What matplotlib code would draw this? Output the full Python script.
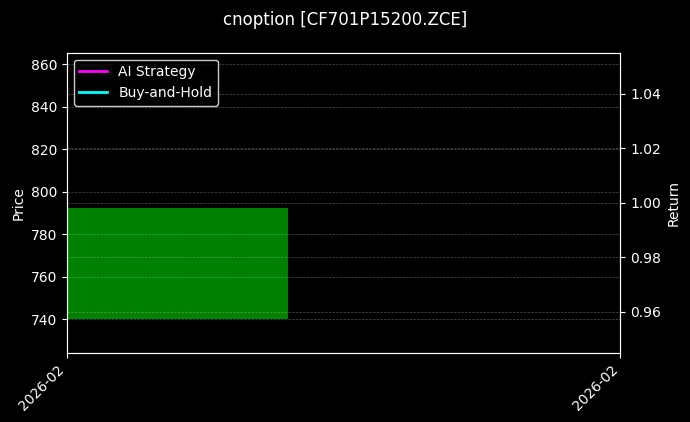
import numpy as np
import pandas as pd
import matplotlib
matplotlib.use('Agg')
import matplotlib.pyplot as plt
import matplotlib.dates as mdates

# data
dates = pd.to_datetime(['2026-02-10'])
open_px = [740.0]
close_px = [792.5]
ai_return = [1.0]
bh_return = [1.0]

TITLE = 'cnoption [CF701P15200.ZCE]'

plt.style.use('dark_background')
fig = plt.figure(figsize=(6.9, 4.22), dpi=100)
ax = fig.add_axes([0.097, 0.164, 0.802, 0.711])

x = mdates.date2num(dates)
body = [c - o for o, c in zip(open_px, close_px)]
colors = ['green' if b >= 0 else 'red' for b in body]
ax.bar(x, body, bottom=open_px, width=0.8, color=colors)

ax.set_xlim(x[0] - 0.4, x[0] + 1.6)
ax.set_ylim(724.3, 865.3)
ax.set_ylabel('Price')
ax.grid(True, linestyle='--', linewidth=0.5, alpha=0.3)

ax2 = ax.twinx()
ax2.plot(x, ai_return, color='magenta', linewidth=2, label='AI Strategy')
ax2.plot(x, bh_return, color='cyan', linewidth=2, label='Buy-and-Hold')
ax2.set_ylabel('Return')
ax2.grid(True, linestyle='--', linewidth=0.5, alpha=0.3)
ax2.legend(loc='upper left', facecolor='black', edgecolor='white')

ax.set_xticks([x[0] - 0.4, x[0] + 1.6])
ax.xaxis.set_major_formatter(mdates.DateFormatter('%Y-%m'))
for lbl in ax.get_xticklabels():
    lbl.set_rotation(45)
    lbl.set_ha('right')

fig.suptitle(TITLE, fontsize=12, y=0.975)
fig.savefig('out.png', dpi=100, facecolor='black')
